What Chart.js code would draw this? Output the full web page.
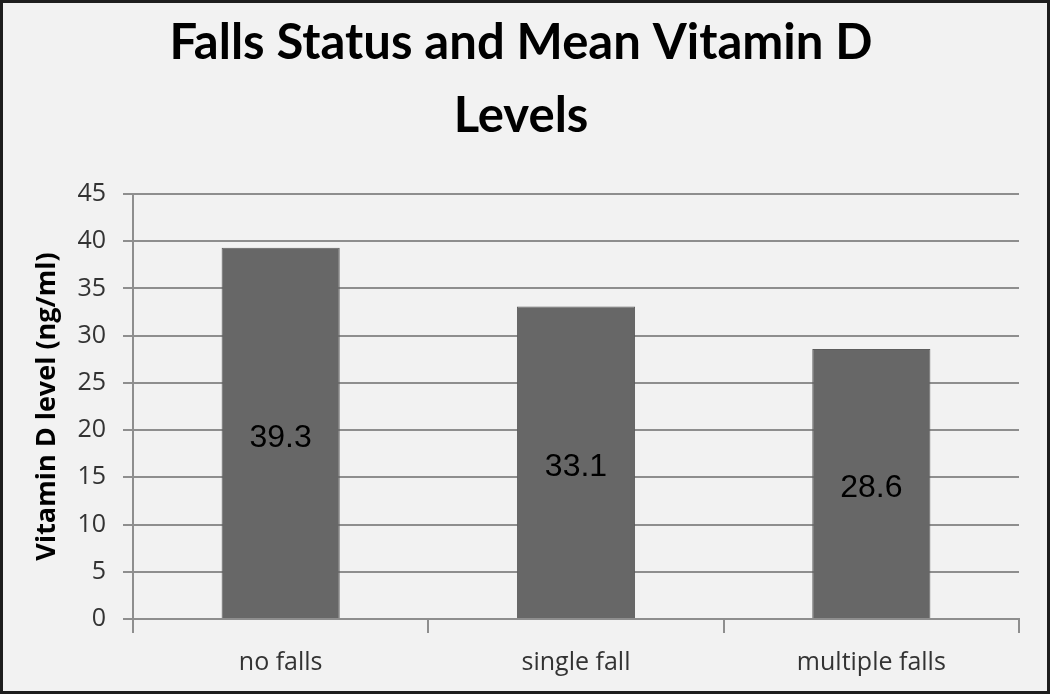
<!DOCTYPE html>
<html>
<head>
<meta charset="utf-8">
<script src="https://cdn.jsdelivr.net/npm/chart.js@4/dist/chart.umd.min.js"></script>
<style>
  html, body { margin: 0; padding: 0; background: #f2f2f2; }
  #frame { width: 1050px; height: 694px; box-sizing: border-box; border: 3px solid #1e1e1e; background: #f2f2f2; position: relative; }
  #c { display: block; }
</style>
</head>
<body>
<div id="frame"><canvas id="c" width="1044" height="688"></canvas></div>
<script>
const categories = ["no falls", "single fall", "multiple falls"];
const vitaminD = [39.3, 33.1, 28.6];
const yTicks = [0, 5, 10, 15, 20, 25, 30, 35, 40, 45];
const titleLines = ["Falls Status and Mean Vitamin D", "Levels"];
const yTitle = "Vitamin D level (ng/ml)";

const barLabels = {
  id: 'barLabels',
  afterDatasetsDraw(chart) {
    const ctx = chart.ctx;
    const meta = chart.getDatasetMeta(0);
    ctx.save();
    ctx.font = '32px "Liberation Sans", Arial, sans-serif';
    ctx.fillStyle = '#000';
    ctx.textAlign = 'center';
    ctx.textBaseline = 'middle';
    meta.data.forEach((bar, i) => {
      const v = chart.data.datasets[0].data[i];
      ctx.fillText(v.toFixed(1), bar.x, (bar.y + bar.base) / 2 + 5);
    });
    ctx.restore();
  }
};

new Chart(document.getElementById('c'), {
  type: 'bar',
  data: {
    labels: categories,
    datasets: [{
      data: vitaminD,
      backgroundColor: '#676767',
      borderColor: '#5c5c5c',
      borderWidth: 1,
      categoryPercentage: 0.4,
      barPercentage: 1.0
    }]
  },
  options: {
    responsive: false,
    animation: false,
    layout: { padding: { top: 0, left: 20, right: 28, bottom: 0 } },
    plugins: {
      legend: { display: false },
      tooltip: { enabled: false },
      title: {
        display: true,
        text: titleLines,
        color: '#000',
        font: { family: 'Lato, sans-serif', size: 49, weight: 'bold', lineHeight: 1.49 },
        padding: { top: 4, bottom: 41 }
      }
    },
    scales: {
      y: {
        min: 0,
        max: 45,
        afterBuildTicks(scale) { scale.ticks = yTicks.map(v => ({ value: v })); },
        afterFit(scale) { scale.width = 110; },
        ticks: {
          color: '#333',
          font: { family: '"Open Sans", sans-serif', size: 25 },
          padding: 17
        },
        grid: { color: '#8e8e8e', lineWidth: 2, tickLength: 10, drawTicks: true },
        border: { color: '#8e8e8e', width: 2 },
        title: {
          display: true,
          text: yTitle,
          color: '#000',
          font: { family: '"Open Sans", sans-serif', size: 27, weight: 'bold' },
          padding: { top: 8, bottom: 0 }
        }
      },
      x: {
        afterFit(scale) { scale.height = 72; },
        ticks: {
          color: '#333',
          font: { family: '"Open Sans", sans-serif', size: 25 },
          padding: 15
        },
        grid: { offset: true, drawOnChartArea: false, color: '#8e8e8e', lineWidth: 2, tickLength: 14 },
        border: { color: '#8e8e8e', width: 2 }
      }
    }
  },
  plugins: [barLabels]
});
</script>
</body>
</html>
